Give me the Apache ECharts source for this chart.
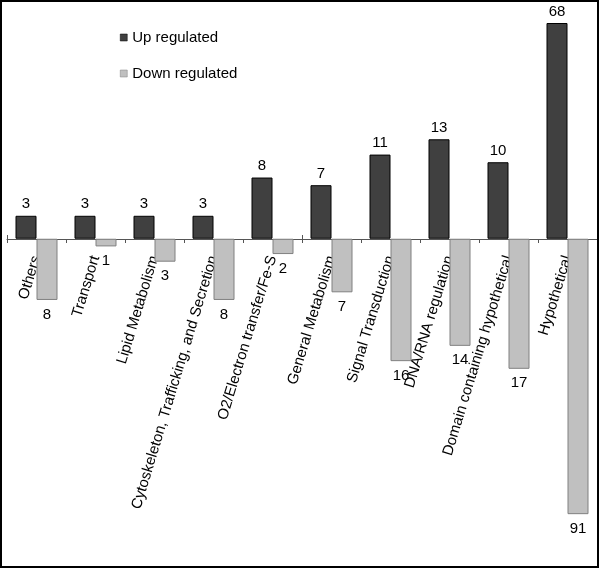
<!DOCTYPE html>
<html>
<head>
<meta charset="utf-8">
<script src="https://cdn.jsdelivr.net/npm/echarts@6/dist/echarts.min.js"></script>
<style>
html,body{margin:0;padding:0;background:#fff;}
#chart{width:600px;height:569px;}
</style>
</head>
<body>
<div id="chart"></div>
<script>
const categories = ['Others','Transport','Lipid Metabolism','Cytoskeleton, Trafficking, and Secretion','O2/Electron transfer/Fe-S','General Metabolism','Signal Transduction','DNA/RNA regulation','Domain containing hypothetical','Hypothetical'];
const upRegulated = [3,3,3,3,8,7,11,13,10,68];
const downRegulated = [8,1,3,8,2,7,16,14,17,91];

const font = 'Liberation Sans, Arial, sans-serif';
const chart = echarts.init(document.getElementById('chart'), null, {renderer:'canvas'});
chart.setOption({
  animation:false,
  backgroundColor:'#fff',
  textStyle:{fontFamily:font},
  graphic:[{type:'rect', shape:{x:1,y:1,width:597,height:566}, style:{fill:'none', stroke:'#000', lineWidth:2}, z:100}],
  legend:{
    orient:'vertical', left:115, top:25, itemWidth:7, itemHeight:7, itemGap:21, icon:'rect',
    itemStyle:{borderWidth:0.5},
    textStyle:{fontSize:15, color:'#000', fontFamily:font}
  },
  grid:[
    {left:7, right:3, top:10, bottom:25, containLabel:false, outerBoundsMode:'none'},
    {left:7, right:3, top:10, height:229, containLabel:false, outerBoundsMode:'none'}
  ],
  xAxis:[{
    gridIndex:0, type:'category', data:categories, show:false
  },{
    gridIndex:1, type:'category', data:categories, position:'bottom',
    axisLine:{onZero:false, lineStyle:{color:'#555', width:1}},
    axisTick:{show:true, length:4, lineStyle:{color:'#555'}},
    axisLabel:{interval:0, rotate:73, margin:17, padding:[5,0,0,0], fontSize:15, color:'#000', fontFamily:font},
    splitLine:{show:false}
  },{
    gridIndex:1, type:'category', data:categories, position:'bottom',
    axisLine:{onZero:false, show:false},
    axisTick:{show:true, inside:true, length:4, lineStyle:{color:'#555'}},
    axisLabel:{show:false},
    splitLine:{show:false}
  }],
  yAxis:[{
    gridIndex:0, type:'value', min:-94.9, max:69.7, show:false,
    breaks:[{start:20, end:59.8, gap:0},{start:-75, end:-20, gap:0}],
    breakArea:{show:false},
    splitLine:{show:false}
  },{
    gridIndex:1, type:'value', min:0, max:1, show:false
  }],
  series:[{
    name:'Up regulated', type:'bar', xAxisIndex:0, yAxisIndex:0, data:upRegulated, barWidth:21, barGap:'0%',
    itemStyle:{color:'#404040', borderColor:'#000', borderWidth:1},
    label:{show:true, position:'top', distance:4, fontSize:15, color:'#000', fontFamily:font}
  },{
    name:'Down regulated', type:'bar', xAxisIndex:0, yAxisIndex:0, data:downRegulated.map(v=>-v), barWidth:21, barGap:'0%',
    itemStyle:{color:'#c0c0c0', borderColor:'#808080', borderWidth:1},
    label:{show:true, position:'bottom', distance:7, fontSize:15, color:'#000', fontFamily:font,
      formatter:p=>String(downRegulated[p.dataIndex])}
  }]
});
</script>
</body>
</html>
